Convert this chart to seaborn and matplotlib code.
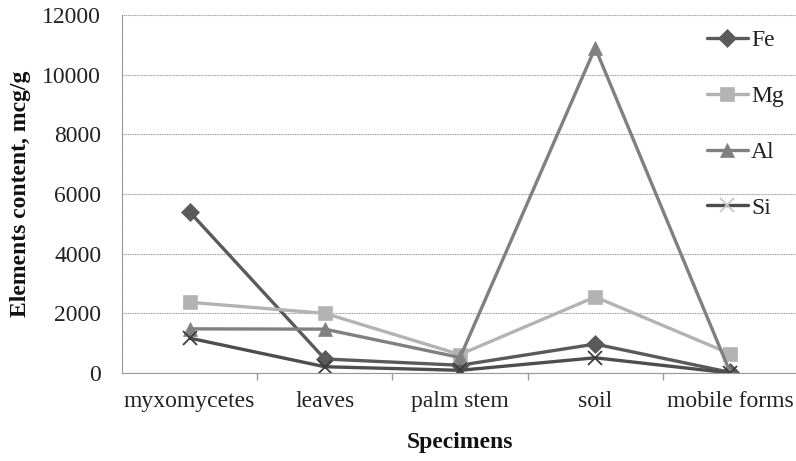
import matplotlib
matplotlib.use("Agg")
import matplotlib.pyplot as plt
import seaborn as sns
import pandas as pd

specimens = ["myxomycetes", "leaves", "palm stem", "soil", "mobile forms"]
fe = [5400, 470, 260, 970, 20]
mg = [2370, 2000, 620, 2550, 640]
al = [1480, 1470, 520, 10900, 0]
si = [1170, 210, 90, 510, 0]

series = [
    ("Fe", fe, "#5a5a5a", "D", 9),
    ("Mg", mg, "#b3b3b3", "s", 10),
    ("Al", al, "#808080", "^", 10),
    ("Si", si, "#4d4d4d", "x", 10),
]

sns.set_theme(style="white")
plt.rcParams["font.family"] = ["Liberation Serif", "DejaVu Serif"]

fig = plt.figure(figsize=(7.96, 4.61), dpi=100)
ax = fig.add_axes([122 / 796, 88 / 461, 676 / 796, 358 / 461])

for name, vals, color, marker, ms in series:
    df = pd.DataFrame({"Specimens": specimens, "value": vals})
    mec = "#3c3c3c" if marker == "x" else color
    sns.lineplot(data=df, x="Specimens", y="value", ax=ax, color=color,
                 linewidth=2.4, marker=marker, markersize=ms,
                 markeredgecolor=mec, markerfacecolor=color,
                 markeredgewidth=1.3 if marker == "x" else 0.5,
                 label=name, sort=False)

ax.set_ylim(0, 12000)
ax.set_xlim(-0.5, 4.5)
ax.set_yticks(range(0, 12001, 2000))
ax.yaxis.grid(True, color="#a0a0a0", linewidth=0.8, linestyle=(0, (1, 0.6)))
ax.xaxis.grid(False)
ax.set_axisbelow(True)

for side in ["top", "right"]:
    ax.spines[side].set_visible(False)
for side in ["left", "bottom"]:
    ax.spines[side].set_color("#9a9a9a")
    ax.spines[side].set_linewidth(0.8)
    ax.spines[side].set_linestyle((0, (1, 0.6)))

ax.set_xticks(range(len(specimens)))
ax.set_xticklabels(specimens)
ax.set_xticks([0.5, 1.5, 2.5, 3.5], minor=True)
ax.tick_params(axis="x", which="major", length=0, pad=13, labelsize=17, colors="#222222")
ax.tick_params(axis="x", which="minor", length=5, direction="out", color="#9a9a9a", bottom=True)
ax.tick_params(axis="y", length=0, pad=15, labelsize=17, colors="#222222")

ax.set_xlabel("Specimens", fontsize=17, fontweight="bold", labelpad=14, color="#111111")
ax.set_ylabel("Elements content, mcg/g", fontsize=17, fontweight="bold", labelpad=8, color="#111111")

leg = ax.legend(loc="upper left", bbox_to_anchor=(0.852, 0.985), frameon=False,
                fontsize=17, labelspacing=1.45, handlelength=1.7, handletextpad=0.15,
                borderaxespad=0)
for t in leg.get_texts():
    t.set_color("#222222")
leg.legend_handles[3].set_markeredgecolor("#c8c8c8")

fig.savefig("out.png", dpi=100)
